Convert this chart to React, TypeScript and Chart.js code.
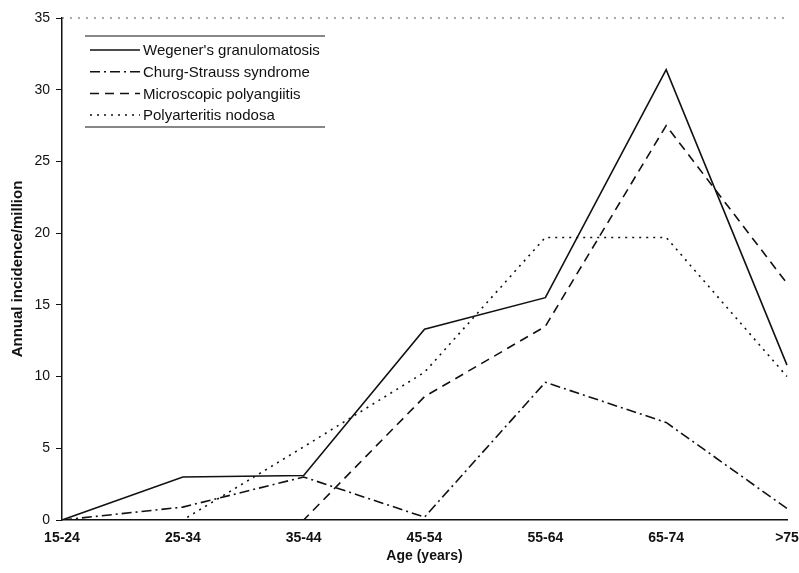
import React, { useEffect, useRef } from "react";
import { Chart, registerables } from "chart.js";

Chart.register(...registerables);

const ageGroups = ["15-24", "25-34", "35-44", "45-54", "55-64", "65-74", ">75"];
const yTicks = [0, 5, 10, 15, 20, 25, 30, 35];

const wegener = [0, 3.0, 3.1, 13.3, 15.5, 31.4, 10.8];
const churgStrauss = [0, 0.9, 3.0, 0.2, 9.6, 6.8, 0.8];
const microscopic = [0, 0, 0, 8.6, 13.5, 27.5, 16.5];
const polyarteritis = [0, 0, 5.1, 10.3, 19.7, 19.7, 10.0];

const seriesNames = [
  "Wegener's granulomatosis",
  "Churg-Strauss syndrome",
  "Microscopic polyangiitis",
  "Polyarteritis nodosa",
];
const seriesDash: number[][] = [[], [10, 4, 2, 4], [9, 6], [2, 5]];

const FONT = "'Liberation Sans', Arial, sans-serif";

// Dotted top rule at the axis maximum
const topRule = {
  id: "topRule",
  beforeDatasetsDraw(chart: any) {
    const { ctx, chartArea, scales } = chart;
    const y = scales.y.getPixelForValue(35);
    ctx.save();
    ctx.strokeStyle = "#555";
    ctx.lineWidth = 1;
    ctx.setLineDash([2, 6]);
    ctx.beginPath();
    ctx.moveTo(chartArea.left, y);
    ctx.lineTo(chartArea.right, y);
    ctx.stroke();
    ctx.restore();
  },
};

// Legend box with line samples showing each dash style
const lineLegend = {
  id: "lineLegend",
  afterDraw(chart: any) {
    const { ctx } = chart;
    const left = 85;
    const right = 325;
    const top = 36;
    const bottom = 127;
    ctx.save();
    ctx.strokeStyle = "#111";
    ctx.lineWidth = 1.2;
    ctx.setLineDash([]);
    ctx.beginPath();
    ctx.moveTo(left, top);
    ctx.lineTo(right, top);
    ctx.moveTo(left, bottom);
    ctx.lineTo(right, bottom);
    ctx.stroke();
    ctx.font = `15px ${FONT}`;
    ctx.fillStyle = "#111";
    ctx.textBaseline = "middle";
    chart.data.datasets.forEach((ds: any, i: number) => {
      const y = 50 + i * 21.7;
      ctx.setLineDash(ds.borderDash || []);
      ctx.lineWidth = 1.5;
      ctx.beginPath();
      ctx.moveTo(90, y);
      ctx.lineTo(140, y);
      ctx.stroke();
      ctx.setLineDash([]);
      ctx.fillText(ds.label, 143, y + 1);
    });
    ctx.restore();
  },
};

export default function App() {
  const canvasRef = useRef<HTMLCanvasElement | null>(null);

  useEffect(() => {
    if (!canvasRef.current) return;
    const values = [wegener, churgStrauss, microscopic, polyarteritis];
    const chart = new Chart(canvasRef.current, {
      type: "line",
      data: {
        labels: ageGroups,
        datasets: values.map((v, i) => ({
          label: seriesNames[i],
          data: v,
          borderColor: "#111",
          borderWidth: 1.6,
          borderDash: seriesDash[i],
          pointRadius: 0,
          tension: 0,
          fill: false,
        })),
      },
      options: {
        animation: false,
        responsive: false,
        maintainAspectRatio: false,
        layout: { padding: { top: 18, right: 12, left: 0, bottom: 0 } },
        plugins: {
          legend: { display: false },
          tooltip: { enabled: false },
        },
        scales: {
          x: {
            type: "category",
            offset: false,
            grid: { display: false, drawTicks: false },
            border: { display: true, color: "#111", width: 1.5 },
            ticks: {
              color: "#111",
              font: { family: FONT, size: 14, weight: "bold" },
              padding: 10,
              maxRotation: 0,
              autoSkip: false,
            },
            title: {
              display: true,
              text: "Age (years)",
              color: "#111",
              font: { family: FONT, size: 14, weight: "bold" },
              padding: { top: 2, bottom: 8 },
            },
            afterFit(scale: any) {
              scale.height = 53;
              scale.paddingRight = 12;
              scale.paddingLeft = 0;
            },
          },
          y: {
            min: 0,
            max: 35,
            afterBuildTicks(scale: any) {
              scale.ticks = yTicks.map((value) => ({ value }));
            },
            grid: {
              drawOnChartArea: false,
              drawTicks: true,
              tickLength: 6,
              color: "#111",
            },
            border: { display: true, color: "#111", width: 1.5 },
            ticks: {
              color: "#111",
              font: { family: FONT, size: 14 },
              padding: 6,
            },
            title: {
              display: true,
              text: "Annual incidence/million",
              color: "#111",
              font: { family: FONT, size: 15, weight: "bold" },
              padding: { top: 9, bottom: 0 },
            },
            afterFit(scale: any) {
              scale.width = 62;
            },
          },
        },
      },
      plugins: [topRule, lineLegend],
    });
    return () => chart.destroy();
  }, []);

  return (
    <div style={{ position: "fixed", left: 0, top: 0, width: 799, height: 573, background: "#fff" }}>
      <canvas ref={canvasRef} width={799} height={573} style={{ display: "block" }} />
    </div>
  );
}
